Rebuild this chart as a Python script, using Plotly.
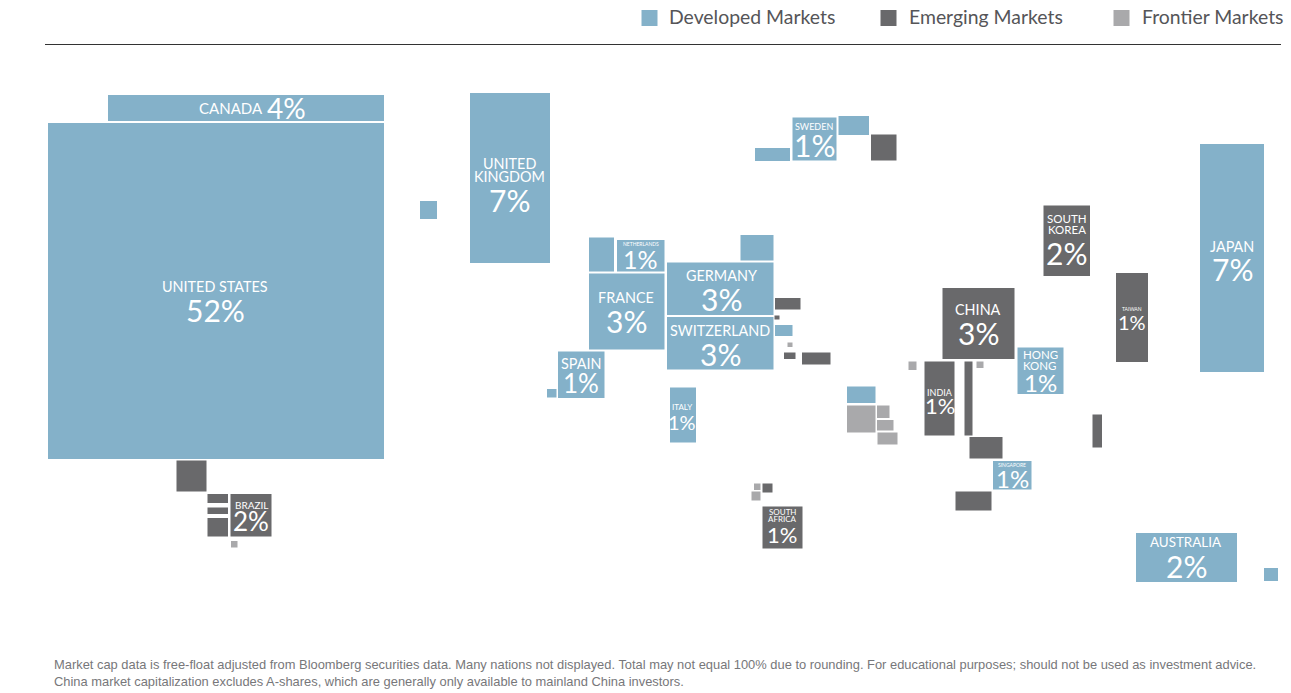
"""Cartogram of world equity market cap, one rectangle per country."""

import plotly.graph_objects as go

MARKETS = ["Developed Markets", "Emerging Markets", "Frontier Markets"]
COLORS = {
    "Developed Markets": "#84b1c9",
    "Emerging Markets": "#69696b",
    "Frontier Markets": "#a9a9ab",
}

# Rectangles, in picture units (y grows downwards)
developed_left = [108, 48, 470, 420, 792.5, 755, 838.5, 589, 617, 589, 667, 667, 740.5, 775, 558, 547, 670, 847, 1017.5, 993, 1200, 1136, 1264]
developed_right = [384, 384, 550, 437, 836.5, 790, 869, 614, 664.5, 664.5, 773.5, 773.5, 773.5, 792.5, 604.5, 556.5, 696, 875.5, 1063.5, 1031.5, 1264, 1237, 1278]
developed_top = [95, 123, 93, 201, 117.5, 148, 116, 237.5, 240, 273.5, 262.5, 317, 235, 325, 351.5, 389, 387.5, 386.5, 347.5, 461, 144, 533, 568]
developed_bottom = [121, 459, 263, 219, 160.5, 161, 135, 271.5, 271.5, 349.5, 315, 369.5, 260.5, 336, 398, 397.5, 442.5, 403, 394, 489.5, 372, 582, 581]

emerging_left = [871, 775, 774.5, 784, 802, 924.5, 964.5, 942.5, 969.5, 955.5, 1092.5, 1043.5, 1116, 176.5, 207.5, 207.5, 207.5, 230.5, 762.5, 762.5]
emerging_right = [896.5, 800.5, 779.5, 795.5, 830.5, 954.5, 972.5, 1014.5, 1002.5, 991.5, 1102, 1090, 1148, 206.5, 228, 228, 228, 271.5, 772.5, 802.5]
emerging_top = [134.5, 298, 315.5, 352.5, 352.5, 361.5, 361.5, 288, 437, 491.5, 414.5, 205.5, 273, 460.5, 494, 507.5, 518, 494, 483.5, 506.5]
emerging_bottom = [160.5, 309.5, 319.5, 359, 364.5, 435.5, 435.5, 359, 458.5, 510.5, 447.5, 276, 362, 491.5, 503, 514, 536.5, 536.5, 492.5, 548.5]

frontier_left = [847, 877, 877, 877.5, 908.5, 976.5, 231, 754, 751.5, 787.5]
frontier_right = [875.5, 889.5, 893.5, 897.5, 916.5, 983.5, 237.5, 760.5, 760.5, 792.5]
frontier_top = [405.5, 405.5, 420, 432.5, 361.5, 361.5, 541, 483.5, 491.5, 342.5]
frontier_bottom = [432.5, 418, 430.5, 444.5, 370, 368, 547.5, 490, 500.5, 347]

countries = [
    "UNITED STATES", "CANADA", "UNITED<br>KINGDOM", "SWEDEN", "NETHERLANDS",
    "FRANCE", "GERMANY", "SWITZERLAND", "SPAIN", "ITALY", "SOUTH<br>KOREA",
    "CHINA", "HONG<br>KONG", "INDIA", "TAIWAN", "JAPAN", "SINGAPORE",
    "AUSTRALIA", "BRAZIL", "SOUTH<br>AFRICA",
]
shares = [52, 4, 7, 1, 1, 3, 3, 3, 1, 1, 2, 3, 1, 1, 1, 7, 1, 2, 2, 1]

FOOTNOTE_LINES = [
    "Market cap data is free-float adjusted from Bloomberg securities data. "
    "Many nations not displayed. Total may not equal 100% due to rounding. "
    "For educational purposes; should not be used as investment advice.",
    "China market capitalization excludes A-shares, which are generally only "
    "available to mainland China investors.",
]

# name x, share x, name y, share y, name size, share size
LABEL_STYLE = {
    "UNITED STATES": (215, 215, 286, 310, 14.4, 30),
    "CANADA": (230.5, 286, 108, 108, 15, 28),
    "UNITED<br>KINGDOM": (509, 509, 170, 200, 14.4, 30),
    "SWEDEN": (814, 814, 126.5, 145, 9, 30),
    "NETHERLANDS": (640.5, 640.5, 243.5, 259, 5, 25),
    "FRANCE": (626, 626, 297.5, 321, 14.4, 30),
    "GERMANY": (721, 721, 275.5, 299, 14.4, 30),
    "SWITZERLAND": (720, 720, 330.5, 354, 14.4, 30),
    "SPAIN": (581, 581, 363.5, 383, 14.4, 26),
    "ITALY": (682, 682, 406.5, 422, 8, 20),
    "SOUTH<br>KOREA": (1066.5, 1066.5, 224, 253, 11.5, 30),
    "CHINA": (978, 978, 309.5, 333, 14.4, 30),
    "HONG<br>KONG": (1040, 1040, 360, 382, 11.5, 24),
    "INDIA": (940, 940, 392.5, 405, 9, 22),
    "TAIWAN": (1132, 1132, 308.5, 322, 5, 20),
    "JAPAN": (1232, 1232, 246.5, 269, 14.4, 30),
    "SINGAPORE": (1012, 1012, 464.5, 478.5, 5, 24),
    "AUSTRALIA": (1186, 1186, 541.5, 566, 13.4, 30),
    "BRAZIL": (251, 251, 504.5, 521, 10, 26),
    "SOUTH<br>AFRICA": (782, 782, 515.5, 534, 8, 22),
}

RECTS = {
    "Developed Markets": (developed_left, developed_right, developed_top, developed_bottom),
    "Emerging Markets": (emerging_left, emerging_right, emerging_top, emerging_bottom),
    "Frontier Markets": (frontier_left, frontier_right, frontier_top, frontier_bottom),
}

# key square center x, legend text left x
LEGEND_POS = {
    "Developed Markets": (649.5, 668),
    "Emerging Markets": (888.5, 908),
    "Frontier Markets": (1121.5, 1140.5),
}


def outline(left, right, top, bottom):
    """Closed polygon paths for a list of rectangles, separated by None."""
    xs, ys = [], []
    for x0, x1, y0, y1 in zip(left, right, top, bottom):
        xs += [x0, x1, x1, x0, x0, None]
        ys += [y0, y0, y1, y1, y0, None]
    return xs, ys


fig = go.Figure()

for market in MARKETS:
    xs, ys = outline(*RECTS[market])
    fig.add_trace(
        go.Scatter(
            x=xs,
            y=ys,
            mode="lines",
            fill="toself",
            fillcolor=COLORS[market],
            line=dict(width=0, color=COLORS[market]),
            hoverinfo="name",
            name=market,
        )
    )
    # Hand placed legend, the plotly one pushes the margins out here
    key_x, text_x = LEGEND_POS[market]
    fig.add_trace(
        go.Scatter(
            x=[key_x],
            y=[18],
            mode="markers",
            marker=dict(symbol="square", size=16, color=COLORS[market]),
            hoverinfo="skip",
        )
    )
    fig.add_annotation(
        x=text_x,
        y=16.5,
        xanchor="left",
        text=market,
        font=dict(family="Lato", size=19.4, color="#555558"),
    )

for country, share in zip(countries, shares):
    name_x, share_x, name_y, share_y, name_size, share_size = LABEL_STYLE[country]
    # Two-line names sit tighter than plotly's own line height
    name_lines = country.split("<br>")
    step = name_size * 0.95
    first_y = name_y - step * (len(name_lines) - 1) / 2
    for i, name_line in enumerate(name_lines):
        fig.add_annotation(
            x=name_x,
            y=first_y + i * step,
            text=name_line,
            font=dict(family="Lato", size=name_size, color="white"),
        )
    fig.add_annotation(
        x=share_x,
        y=share_y,
        text=f"{share}%",
        font=dict(family="Lato", size=share_size, color="white"),
    )

for line, line_y in zip(FOOTNOTE_LINES, [664.5, 681]):
    fig.add_annotation(
        x=53,
        y=line_y,
        xanchor="left",
        text=line,
        font=dict(family="Liberation Sans", size=12.9, color="#77777a"),
    )

fig.update_annotations(showarrow=False, borderpad=0)

fig.add_shape(
    type="line", x0=45, x1=1281, y0=44.5, y1=44.5, line=dict(color="#333333", width=1.2)
)

fig.update_xaxes(range=[0, 1291], visible=False)
fig.update_yaxes(range=[693, 0], visible=False)
fig.update_layout(
    width=1291,
    height=693,
    margin=dict(l=0, r=0, t=0, b=0),
    paper_bgcolor="white",
    plot_bgcolor="white",
    showlegend=False,
)

# Drop the default page margin so the picture sits at the window corner
fig.write_html(
    "out.html",
    config={"displayModeBar": False},
    post_script="document.body.style.margin = '0';",
)
